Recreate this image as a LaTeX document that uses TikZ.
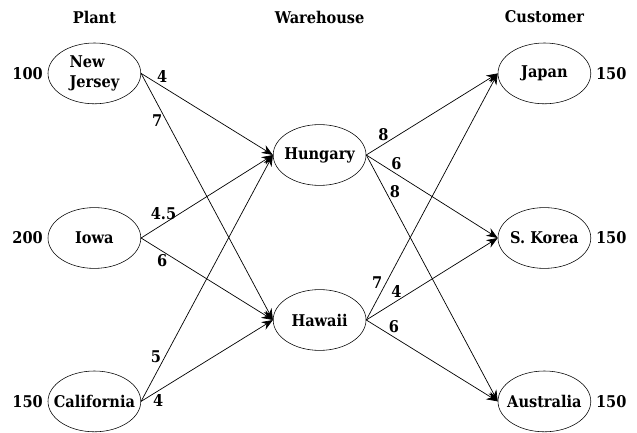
\documentclass[tikz,border=0pt]{standalone}
\usepackage{fontspec}
\setmainfont{DejaVu Serif Condensed}
\usetikzlibrary{arrows.meta,shapes.geometric}

\begin{document}
\begin{tikzpicture}[>={Stealth[length=2.8mm,width=2.2mm]},font=\bfseries\fontsize{11.5}{14}\selectfont,
  place/.style={ellipse,draw,minimum width=2.32cm,minimum height=1.52cm,inner xsep=-6pt,inner ysep=0pt},
  flow/.style={->,line width=0.5pt},
  cost/.style={inner sep=2.5pt}]
\useasboundingbox (0,0) rectangle (15.925,10.825);
% headings
\node (hplant) at (2.36,10.4) {Plant};
\node (hware) at (7.99,10.4) {Warehouse};
\node (hcust) at (13.61,10.4) {Customer};
% plants
\node[place,align=left] (nj) at (2.36,8.99) {New\\Jersey};
\node[place] (iowa) at (2.36,4.875) {Iowa};
\node[place] (cal) at (2.36,0.79) {California};
% warehouses
\node[place] (hun) at (7.99,6.95) {Hungary};
\node[place] (haw) at (7.99,2.825) {Hawaii};
% customers
\node[place] (jap) at (13.61,8.99) {Japan};
\node[place] (kor) at (13.61,4.875) {S. Korea};
\node[place] (aus) at (13.61,0.79) {Australia};
% supply and demand
\node[left=0pt] (snj) at (nj.west) {100};
\node[left=0pt] (siowa) at (iowa.west) {200};
\node[left=0pt] (scal) at (cal.west) {150};
\node[right=0pt] (djap) at (jap.east) {150};
\node[right=0pt] (dkor) at (kor.east) {150};
\node[right=0pt] (daus) at (aus.east) {150};
% plant to warehouse
\draw[flow] (nj.east) -- node[cost,pos=0.16,above]{4} (hun.west);
\draw[flow] (nj.east) -- node[cost,pos=0.19,left]{7} (haw.west);
\draw[flow] (iowa.east) -- node[cost,pos=0.17,above]{4.5} (hun.west);
\draw[flow] (iowa.east) -- node[cost,pos=0.16,below]{6} (haw.west);
\draw[flow] (cal.east) -- node[cost,pos=0.18,left]{5} (hun.west);
\draw[flow] (cal.east) -- node[cost,pos=0.13,below]{4} (haw.west);
% warehouse to customer
\draw[flow] (hun.east) -- node[cost,pos=0.13,above]{8} (jap.west);
\draw[flow] (hun.east) -- node[cost,pos=0.23,above]{6} (kor.west);
\draw[flow] (hun.east) -- node[cost,pos=0.15,right]{8} (aus.west);
\draw[flow] (haw.east) -- node[cost,pos=0.15,left]{7} (jap.west);
\draw[flow] (haw.east) -- node[cost,pos=0.23,above]{4} (kor.west);
\draw[flow] (haw.east) -- node[cost,pos=0.21,above]{6} (aus.west);
\end{tikzpicture}
\end{document}
